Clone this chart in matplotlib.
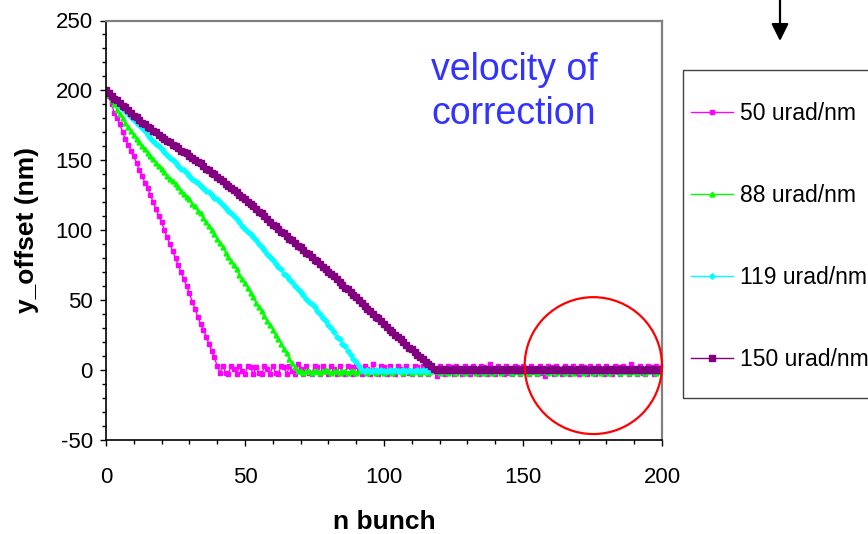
import matplotlib
matplotlib.use('Agg')
import matplotlib.pyplot as plt
import numpy as np
from matplotlib.patches import Ellipse, Rectangle

plt.rcParams['font.family'] = ['Liberation Sans', 'DejaVu Sans']
plt.rcParams['axes.unicode_minus'] = False

# y_offset (nm) per bunch
y_50 = [200, 196, 190, 184, 180, 176, 170, 165, 161, 157, 153, 148, 143, 139, 134, 130, 125, 120, 115, 110,
        106, 100, 95, 90, 85, 80, 75, 70, 65, 60, 55, 49, 44, 38, 33, 29, 24, 19, 14, 9,
        3, -2,
        3, -2, -3, 3, 1, -3, 3, -1, -3, 3, 2, -3, 2, -2, -3, 3, 1, -3, 3, -2,
        -3, 3, 2, -3, 3, -1, -3, 4, 1, -3, 3, -2, -3, 3, 2, -3, 3, -1, -3, 3,
        1, -3, 3, -2, -3, 3, 2, -3, 3, -1, -3, 3, 1, -3, 4, -2, -3, 3, 2, -3,
        3, -1, -3, 3, 1, -3, 3, -2, -3, 3, 2, -3, 3, -1, -3, 3, 1, -4, 3, -2,
        -3, 3, 2, -3, 3, -1, -3, 3, 1, -3, 3, -2, -3, 3, 2, -3, 4, -1, -3, 3,
        1, -3, 3, -2, -3, 3, 2, -3, 3, -1, -3, 3, 1, -3, 3, -2, -4, 3, 2, -3,
        3, -1, -3, 3, 1, -3, 3, -2, -3, 3, 2, -3, 3, -1, -3, 3, 1, -3, 3, -2,
        -3, 3, 2, -3, 3, -1, -3, 4, 1, -3, 3, -2, -3, 3, 2, -3, 3, -1, 2]

y_88 = [200, 197, 193, 190, 186, 183, 180, 177, 174, 171, 168, 165, 163, 160, 158, 155, 153, 151, 148, 146,
        144, 142, 139, 137, 135, 133, 131, 128, 126, 124, 122, 119, 117, 114, 112, 109, 106, 103, 100, 97,
        94, 91, 88, 84, 81, 78, 75, 72, 68, 65, 62, 59, 55, 52, 48, 45, 42, 39, 35, 32,
        29, 25, 22, 19, 15, 12, 8, 5, 2, -1,
        -1, -2, -1, -1, -2, -1, -1, -2, -1, 0, -1, -2, -1, -1, -2, -1, -1, -2, -1, -1,
        -2, -1, 0, -1, -2, -1, -1, -2, -1, -1, -2, -1, -1, -2, -1, 0, -1, -2, -1, -1,
        -2, -1, -1, -2, -1, -1, -2, -1, 0, -1, -2, -1, -1, -2, -1, -1, -2, -1, -1, -2,
        -1, 0, -1, -2, -1, -1, -2, -1, -1, -2, -1, -1, -2, -1, 0, -1, -2, -1, -1, -2,
        -1, -1, -2, -1, -1, -2, -1, 0, -1, -2, -1, -1, -2, -1, -1, -2, -1, -1, -2, -1,
        0, -1, -2, -1, -1, -2, -1, -1, -2, -1, -1, -2, -1, 0, -1, -2, -1, -1, -2, -1,
        -1, -2, -1, -1, -2, -1, 0, -1, -2, -1, -1]

y_119 = [200, 198, 196, 194, 192, 189, 187, 185, 183, 181, 179, 177, 175, 173, 171, 168, 166, 164, 162, 160,
         158, 156, 154, 152, 150, 148, 146, 144, 143, 141, 139, 137, 135, 134, 132, 130, 128, 127, 125, 123,
         122, 120, 118, 116, 114, 112, 110, 108, 106, 103, 101, 99, 97, 95, 93, 90, 88, 86, 83, 81,
         79, 76, 74, 72, 69, 67, 65, 63, 60, 58, 56, 54, 51, 49, 47, 45, 42, 40, 37, 35,
         32, 30, 27, 24, 22, 19, 17, 14, 11, 8, 6, 3, 0,
         -1, 0, -1, -1, 0, -1, 0, -1, -1, 0, -1, 0, -1, -1, 0, -1, 0, -1, -1, 0,
         -1, 0, -1, -1, 0, -1, 0, -1, -1, 0, -1, 0, -1, -1, 0, -1, 0, -1, -1, 0,
         -1, 0, -1, -1, 0, -1, 0, -1, -1, 0, -1, 0, -1, -1, 0, -1, 0, -1, -1, 0,
         -1, 0, -1, -1, 0, -1, 0, -1, -1, 0, -1, 0, -1, -1, 0, -1, 0, -1, -1, 0,
         -1, 0, -1, -1, 0, -1, 0, -1, -1, 0, -1, 0, -1, -1, 0, -1, 0, -1, -1, 0,
         -1, 0, -1, -1, 0, -1, 0, -1]

y_150 = [200, 198, 196, 194, 193, 191, 189, 188, 186, 184, 182, 181, 179, 177, 176, 174, 173, 171, 170, 168,
         167, 165, 164, 163, 161, 160, 159, 157, 156, 155, 153, 152, 150, 149, 148, 146, 144, 143, 141, 140,
         138, 137, 135, 133, 132, 130, 129, 127, 125, 124, 122, 120, 119, 117, 115, 113, 112, 110, 108, 106,
         104, 103, 101, 99, 98, 96, 94, 93, 91, 89, 88, 86, 84, 83, 81, 79, 78, 76, 74, 72,
         70, 69, 67, 65, 63, 61, 59, 58, 56, 54, 52, 50, 48, 46, 44, 42, 40, 38, 37, 35,
         33, 31, 29, 27, 25, 24, 22, 20, 18, 16, 15, 13, 11, 9, 8, 6, 4, 3, 1, 0,
         1, 0, 1, 0, 0, 1, 0, 1, 0, 0, 1, 0, 1, 0, 0, 1, 0, 1, 0, 0,
         1, 0, 1, 0, 0, 1, 0, 1, 0, 0, 1, 0, 1, 0, 0, 1, 0, 1, 0, 0,
         1, 0, 1, 0, 0, 1, 0, 1, 0, 0, 1, 0, 1, 0, 0, 1, 0, 1, 0, 0,
         1, 0, 1, 0, 0, 1, 0, 1, 0, 0, 1, 0, 1, 0, 0, 1, 0, 1, 0, 0,
         1]

labels = ['50 urad/nm', '88 urad/nm', '119 urad/nm', '150 urad/nm']
colors = ['#ff00ff', '#00ff00', '#00ffff', '#800080']
markers = ['s', '^', 'D', 's']
msizes = [2.2, 3.5, 2.8, 4.0]

fig = plt.figure(figsize=(8.68, 5.34), dpi=100)
ax = fig.add_axes([106/868, 1-440/534, (662-106)/868, (440-20.5)/534])

for ys, lab, col, mk, ms in zip([y_50, y_88, y_119, y_150], labels, colors, markers, msizes):
    ax.plot(np.arange(len(ys)), ys, color=col, lw=1.0, marker=mk, ms=ms,
            mfc=col, mec=col, label=lab)

ax.set_xlim(0, 200)
ax.set_ylim(-50, 250)
ax.set_xticks(np.arange(0, 201, 50))
ax.set_xticks(np.arange(0, 201, 10), minor=True)
ax.set_yticks(np.arange(-50, 251, 50))
ax.set_yticks(np.arange(-50, 251, 10), minor=True)
ax.tick_params(which='major', direction='out', length=4.5, width=1, labelsize=16)
ax.tick_params(which='minor', direction='out', length=3, width=1)
ax.tick_params(axis='x', pad=15)
ax.tick_params(axis='y', pad=5)

for s in ['left', 'bottom']:
    ax.spines[s].set_color('black')
    ax.spines[s].set_linewidth(1.2)
for s in ['top', 'right']:
    ax.spines[s].set_color('#808080')
    ax.spines[s].set_linewidth(1.6)

ax.set_xlabel('n bunch', fontsize=19, fontweight='bold', labelpad=16)
ax.set_ylabel('y_offset (nm)', fontsize=19, fontweight='bold', labelpad=12)

# red circle around the settled region
circ = Ellipse((175.3, 3.2), 49.4, 97.9, fill=False, ec='red', lw=1.6, clip_on=False, zorder=5)
ax.add_patch(circ)

fig.text(431/868, 1-52/534, 'velocity of\ncorrection', color='#3333ff', fontsize=27,
         va='top', ha='left', linespacing=1.3)

# legend, sitting in a box that runs off the right edge
fig.add_artist(Rectangle((683/868, 1-398/534), 0.4, (398-70)/534, transform=fig.transFigure,
                         fill=False, ec='#404040', lw=1.0))
fig.legend(loc='upper left', bbox_to_anchor=(691/868, 1-102/534), bbox_transform=fig.transFigure,
           frameon=False, fontsize=16.5, handlelength=1.85, handletextpad=0.3,
           labelspacing=2.58, borderpad=0, borderaxespad=0)

ax.annotate('', xy=(780/868, 1-41/534), xytext=(780/868, 1.02), xycoords='figure fraction',
            textcoords='figure fraction', annotation_clip=False,
            arrowprops=dict(arrowstyle='-|>', color='black', lw=1.6, mutation_scale=26,
                            shrinkA=0, shrinkB=0))

fig.savefig('out.png', dpi=100)
